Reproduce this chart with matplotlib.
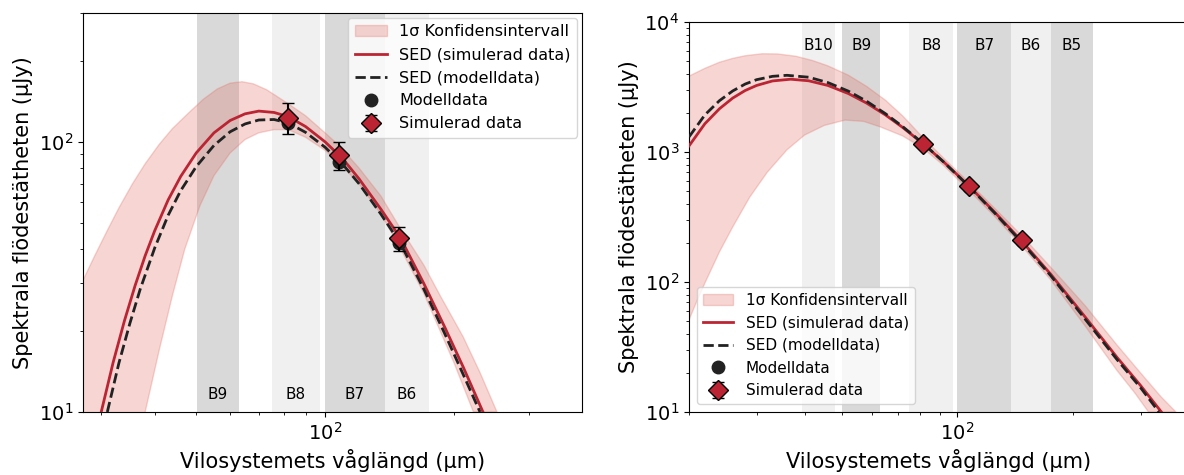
import numpy as np
import matplotlib
matplotlib.use("Agg")
import matplotlib.pyplot as plt

# ALMA bands in rest-frame wavelength (um)
band_names = ["B10", "B9", "B8", "B7", "B6", "B5"]
band_lo = [39.3, 50.2, 75.0, 100.0, 137.8, 175.0]
band_hi = [47.9, 62.9, 97.3, 137.8, 175.0, 225.5]
band_dark = [False, True, False, True, False, True]

# ---- left panel ----
L_wave_pts = [81.7, 107.7, 148.5]
L_sim_flux = [123.0, 89.3, 43.9]
L_sim_err = [16.0, 10.5, 4.4]
L_mod_flux = [117.0, 83.9, 42.1]

L_red_x = [30, 32, 34, 36, 38, 40, 43, 46, 50, 55, 60, 65, 70, 76, 82, 90, 100, 110, 120, 135, 150, 170, 190, 210, 235]
L_red_y = [10.0, 15.3, 21.8, 29.4, 37.9, 46.9, 61.0, 74.5, 91.0, 108.0, 120.0, 127.0, 130.0, 128.5, 124.0,
           114.0, 100.0, 86.5, 73.0, 56.3, 44.0, 29.9, 20.7, 14.7, 9.8]

L_dash_x = [31, 33, 35, 37, 40, 43, 46, 50, 55, 60, 65, 70, 76, 82, 90, 100, 110, 120, 135, 150, 170, 190, 210, 230]
L_dash_y = [10.0, 15.2, 21.3, 28.5, 40.5, 53.5, 66.0, 81.0, 97.0, 109.0, 116.5, 120.5, 121.0, 117.5,
            108.5, 95.5, 82.5, 70.0, 54.0, 42.0, 28.5, 19.6, 13.8, 10.0]

L_up_x = [27.0, 29, 31, 33, 35.5, 38, 41, 44, 48, 52, 56, 60, 64, 68, 73, 81.7, 90, 100, 107.7, 120, 135, 148.5,
          170, 186.3, 210, 230, 252]
L_up_y = [30.0, 38.0, 47.0, 57.0, 70.0, 83.0, 98.0, 112.0, 128.0, 144.0, 157.0, 165.0, 167.0, 164.0, 156.0, 139.0,
          125.0, 108.0, 97.0, 80.0, 63.0, 49.0, 35.0, 26.7, 19.0, 14.0, 10.0]
L_lo_x = [27, 33, 36, 38, 41, 44, 47, 51, 55, 60, 65, 70, 76, 82, 90, 100, 107.7, 120, 135, 148.5, 170, 186, 200, 222]
L_lo_y = [1.5, 4.5, 7.3, 10.0, 17.0, 27.0, 40.0, 58.0, 75.0, 91.0, 102.0, 108.0, 111.0, 111.0, 104.0, 93.0,
          84.0, 70.0, 54.0, 41.5, 27.5, 19.8, 15.2, 10.0]

# ---- right panel ----
R_wave_pts = [81.4, 107.1, 147.2]
R_sim_flux = [1162.0, 546.0, 210.0]
R_sim_err = [60.0, 28.0, 11.0]
R_mod_flux = [1150.0, 540.0, 206.0]

R_red_x = [20, 22, 24, 26, 28, 30, 33, 36.8, 41, 46, 52, 58, 65, 72, 81.4, 92, 107, 125, 147, 175, 215, 260, 300, 340]
R_red_y = [1114.0, 1650.0, 2150.0, 2600.0, 2970.0, 3250.0, 3520.0, 3630.0, 3530.0, 3250.0, 2817.0, 2380.0, 1926.0,
           1547.0, 1158.0, 843.0, 551.0, 345.0, 207.0, 115.0, 54.0, 26.5, 16.0, 10.0]

R_dash_x = [20, 22, 24, 26, 28, 30, 33, 36, 41, 46, 52, 58, 65, 72, 81.4, 92, 107, 125, 147, 175, 215, 260, 300, 335]
R_dash_y = [1306.0, 1930.0, 2480.0, 2950.0, 3330.0, 3600.0, 3820.0, 3890.0, 3760.0, 3420.0, 2940.0, 2460.0, 1970.0,
            1570.0, 1165.0, 840.0, 546.0, 340.0, 202.0, 112.0, 52.0, 25.5, 15.4, 10.0]

R_up_x = [20, 22, 24, 26, 28, 31, 34, 38, 42, 46, 52, 58, 65, 72, 81.4, 92, 107, 125, 147, 175, 215, 260, 300, 340, 371]
R_up_y = [3830.0, 4400.0, 4900.0, 5250.0, 5500.0, 5700.0, 5680.0, 5450.0, 5050.0, 4600.0, 3900.0, 3200.0, 2500.0,
          1900.0, 1290.0, 900.0, 585.0, 370.0, 228.0, 130.0, 66.0, 33.0, 20.0, 13.0, 10.0]
R_lo_x = [20, 21, 22, 24, 26, 28.8, 32, 36, 40, 45, 51, 57, 63, 72, 81.4, 92, 107, 125, 147, 175, 215, 260, 290, 314.7]
R_lo_y = [51.0, 72.0, 98.0, 170.0, 265.0, 450.0, 700.0, 1040.0, 1350.0, 1600.0, 1760.0, 1720.0, 1560.0, 1330.0,
          1070.0, 790.0, 510.0, 320.0, 190.0, 104.0, 46.0, 21.0, 14.0, 10.0]

RED = "#bb2533"
DARK = "#222222"
FILL = "#e06a60"

fig = plt.figure(figsize=(11.84, 4.75), dpi=100)
ax1 = fig.add_axes([83 / 1184, 63 / 475, 499 / 1184, 399 / 475])
ax2 = fig.add_axes([689 / 1184, 63 / 475, 499.5 / 1184, 390 / 475])


def draw_panel(ax, which, wave, sim, err, mod, rx, ry, dx, dy, ux, uy, lx, ly, label_y):
    for i in which:
        ax.axvspan(band_lo[i], band_hi[i], color="#d9d9d9" if band_dark[i] else "#f0f0f0",
                   lw=0, zorder=0)
        ax.text(np.sqrt(band_lo[i] * band_hi[i]), label_y, band_names[i],
                transform=ax.get_xaxis_transform(), ha="center", va="center", fontsize=11)
    px = list(ux) + list(lx[::-1])
    py = list(uy) + list(ly[::-1])
    ax.fill(px, py, facecolor=FILL, alpha=0.28, edgecolor=FILL, lw=1,
            label="1σ Konfidensintervall", zorder=1)
    ax.plot(rx, ry, color=RED, lw=2, label="SED (simulerad data)", zorder=3)
    ax.plot(dx, dy, color=DARK, lw=2, ls="--", label="SED (modelldata)", zorder=4)
    ax.plot(wave, mod, "o", color=DARK, ms=9, ls="none", label="Modelldata", zorder=5)
    ax.errorbar(wave, sim, yerr=err, fmt="D", ms=10, mfc=RED, mec="black", mew=1,
                ecolor="black", elinewidth=1.5, capsize=4, capthick=1.5,
                label="Simulerad data", zorder=6)
    ax.set_xscale("log")
    ax.set_yscale("log")
    ax.set_xlabel("Vilosystemets våglängd (µm)", fontsize=15)
    ax.set_ylabel("Spektrala flödestätheten (µJy)", fontsize=15)
    ax.tick_params(axis="both", which="major", labelsize=14)


draw_panel(ax1, [1, 2, 3, 4], L_wave_pts, L_sim_flux, L_sim_err, L_mod_flux,
           L_red_x, L_red_y, L_dash_x, L_dash_y, L_up_x, L_up_y, L_lo_x, L_lo_y, 0.045)
ax1.set_xlim(27.2, 398)
ax1.set_ylim(10, 300)
ax1.legend(loc="upper right", fontsize=11.5, borderaxespad=0.3)

draw_panel(ax2, [0, 1, 2, 3, 4, 5], R_wave_pts, R_sim_flux, R_sim_err, R_mod_flux,
           R_red_x, R_red_y, R_dash_x, R_dash_y, R_up_x, R_up_y, R_lo_x, R_lo_y, 0.94)
ax2.set_xlim(20, 400)
ax2.set_ylim(10, 1e4)
ax2.legend(loc="lower left", fontsize=11)

fig.savefig("out.png", dpi=100)
